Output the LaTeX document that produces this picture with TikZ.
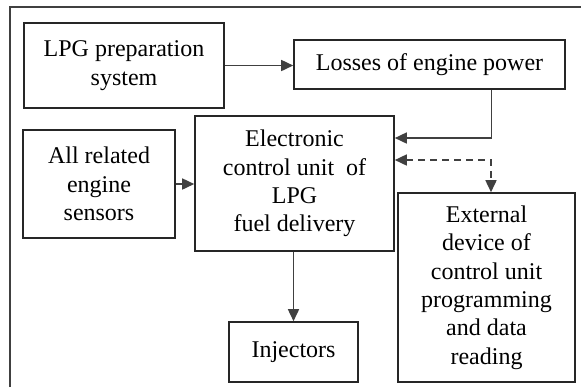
\documentclass[tikz,border=0pt]{standalone}
\usepackage{fontspec}
\setmainfont{Liberation Serif}
\usetikzlibrary{arrows.meta}

\tikzset{
  blockbox/.style={draw=black!85,line width=0.8pt,inner sep=0pt,align=center,
    font=\fontsize{12}{14.2}\selectfont},
  flowline/.style={-{Triangle[length=6pt,width=5.5pt]},draw=black!75,line width=0.8pt},
}

\begin{document}
\begin{tikzpicture}[x=0.5pt,y=-0.5pt]

    % fix the page size
    \useasboundingbox (0,0) rectangle (581,387);

    % frame, only top and left side
    \draw [line width=1pt,black!75] (10,387) -- (10,7) -- (581,7);

    % blocks
    \node [blockbox,minimum width=100pt,minimum height=42.5pt] (prep) at (124,65.5)
      {LPG preparation\\system};
    \node [blockbox,minimum width=135.5pt,minimum height=24.5pt] (loss) at (429.5,64.5)
      {Losses of engine power};
    \node [blockbox,minimum width=99.5pt,minimum height=67.5pt] (ecu) at (294.5,183.5)
      {Electronic\\control unit\ \ of\\LPG\\fuel delivery};
    \node [blockbox,minimum width=76pt,minimum height=54pt] (sens) at (99,184)
      {All related\\engine\\sensors};
    \node [blockbox,minimum width=64.5pt,minimum height=30pt] (inj) at (293.5,352)
      {Injectors};
    \node [blockbox,minimum width=88.5pt,minimum height=94.5pt] (ext) at (486.5,287.5)
      {External\\device of\\control unit\\programming\\and data\\reading};

    % connections
    \draw [flowline] (prep.east) -- (prep.east -| loss.west);
    \draw [flowline] ([xshift=31pt]loss.south) |- ([yshift=22.75pt]ecu.east);
    \draw [flowline,{Triangle[length=6pt,width=5.5pt]}-{Triangle[length=6pt,width=5.5pt]},
      dash pattern=on 3.5pt off 2.5pt] ([yshift=11.75pt]ecu.east) -| ([xshift=2.25pt]ext.north);
    \draw [flowline] (sens.east) -- (sens.east -| ecu.west);
    \draw [flowline] (ecu.south -| inj.north) -- (inj.north);

\end{tikzpicture}
\end{document}
